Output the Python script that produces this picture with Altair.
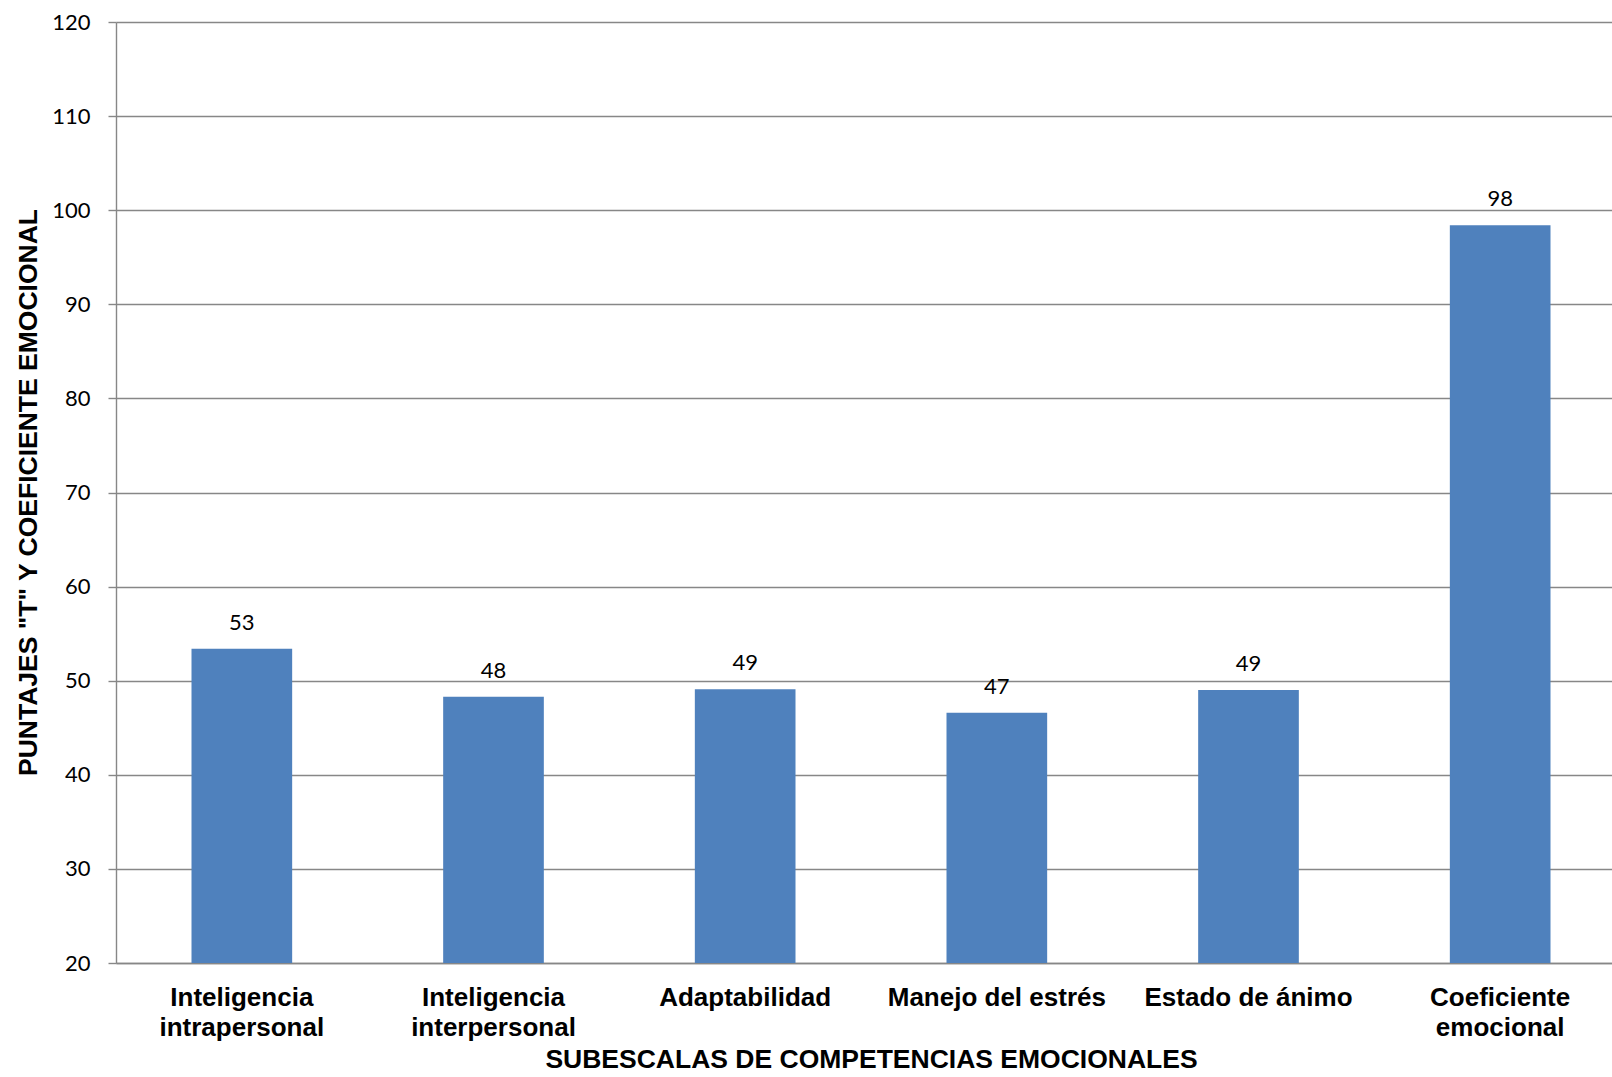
import altair as alt
import pandas as pd

# Subscale names ("\n" marks a line break in the axis label)
categories = [
    "Inteligencia\nintrapersonal",
    "Inteligencia\ninterpersonal",
    "Adaptabilidad",
    "Manejo del estrés",
    "Estado de ánimo",
    "Coeficiente\nemocional",
]
# Scores per subscale
scores = [53.4, 48.3, 49.1, 46.6, 49.0, 98.4]
# Y axis ticks; the bars rise from the axis floor
y_ticks = [20, 30, 40, 50, 60, 70, 80, 90, 100, 110, 120]
y_floor = 20

df = pd.DataFrame({"subescala": categories, "puntaje": scores})

BAR_COLOR = "#4F81BD"
GRID_COLOR = "#878787"
BOLD_FONT = "Liberation Sans"
NUM_FONT = "Lato"

x = alt.X(
    "subescala:N",
    sort=categories,
    scale=alt.Scale(range=[0, 1510], paddingInner=0.6, paddingOuter=0.3),
    axis=alt.Axis(
        title="SUBESCALAS DE COMPETENCIAS EMOCIONALES",
        titleFont=BOLD_FONT,
        titleFontWeight="bold",
        titleFontSize=26.5,
        titleColor="#000000",
        titleBaseline="alphabetic",
        titleY=104,
        labelExpr="split(datum.label, '\\n')",
        labelFont=BOLD_FONT,
        labelFontWeight="bold",
        labelFontSize=26,
        labelColor="#000000",
        labelAngle=0,
        labelBaseline="top",
        labelLineHeight=30,
        labelPadding=21,
        labelLimit=0,
        ticks=False,
        tickSize=0,
        domainColor=GRID_COLOR,
        domainWidth=1.4,
    ),
)

y = alt.Y(
    "puntaje:Q",
    scale=alt.Scale(domain=[y_ticks[0], y_ticks[-1]], nice=False, zero=False),
    axis=alt.Axis(
        values=y_ticks,
        title='PUNTAJES "T" Y COEFICIENTE EMOCIONAL',
        titleFont=BOLD_FONT,
        titleFontWeight="bold",
        titleFontSize=26.5,
        titleColor="#000000",
        titleAngle=-90,
        titleBaseline="alphabetic",
        titleAlign="center",
        titleX=-80,
        titleY=470,
        labelFont=NUM_FONT,
        labelFontSize=22,
        labelColor="#000000",
        labelPadding=18,
        tickSize=8,
        tickColor=GRID_COLOR,
        tickWidth=1.4,
        domainColor=GRID_COLOR,
        domainWidth=1.4,
        gridColor=GRID_COLOR,
        gridWidth=1.4,
    ),
)

bars = alt.Chart(df).mark_bar(color=BAR_COLOR).encode(
    x=x, y=y, y2=alt.datum(y_floor)
)

labels = alt.Chart(df).mark_text(
    font=NUM_FONT,
    fontSize=22,
    color="#000000",
    baseline="alphabetic",
    dy=-19,
).encode(
    x=alt.X("subescala:N", sort=categories),
    y="puntaje:Q",
    text=alt.Text("puntaje:Q", format=".0f"),
)

chart = (
    alt.layer(bars, labels)
    .properties(
        width=1496,
        height=941,
        autosize=alt.AutoSizeParams(type="none"),
        padding={"left": 116, "top": 22, "right": 0, "bottom": 110},
        background="#FFFFFF",
    )
    .configure_view(stroke=None)
)

chart.save("out.html", embed_options={"renderer": "svg", "actions": False})
